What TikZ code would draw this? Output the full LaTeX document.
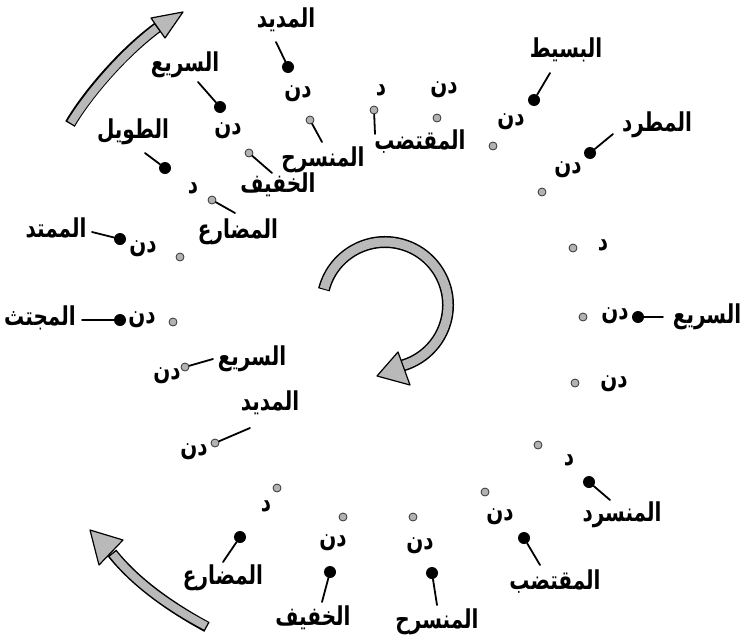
\documentclass[tikz,border=0pt]{standalone}
\usepackage{fontspec}
\newfontfamily\arabicfont[Script=Arabic]{DejaVu Sans}
\TeXXeTstate=1
\newcommand{\ar}[1]{\scalebox{1}[1.3]{\beginR#1\endR}}

\begin{document}
\begin{tikzpicture}[x=1pt, y=-1pt, line cap=round, line join=round,
  lbl/.style={font=\arabicfont\bfseries\fontsize{20}{24}\selectfont, inner sep=0pt},
  bigdot/.style={circle, fill=black, inner sep=0pt, minimum size=12pt},
  smalldot/.style={circle, fill=gray!60, draw=black!80, line width=0.8pt, inner sep=0pt, minimum size=8pt},
  leader/.style={line width=1.8pt}]

  %% ════ 外圈实心点 + 名称 ════
  \node[bigdot] (b1) at (288,67) {};   \node[lbl] (n1) at (286,20) {\ar{المديد}};
  \node[bigdot] (b2) at (220,107) {};  \node[lbl] (n2) at (185,65) {\ar{السريع}};
  \node[bigdot] (b3) at (165,168) {};  \node[lbl] (n3) at (133,132) {\ar{الطويل}};
  \node[bigdot] (b4) at (120,239) {};  \node[lbl] (n4) at (56,228) {\ar{الممتد}};
  \node[bigdot] (b5) at (120,320) {};  \node[lbl] (n5) at (40,318) {\ar{المجتث}};
  \node[bigdot] (b6) at (534,100) {};  \node[lbl] (n6) at (566,50) {\ar{البسيط}};
  \node[bigdot] (b7) at (590,153) {};  \node[lbl] (n7) at (657,125) {\ar{المطرد}};
  \node[bigdot] (b8) at (638,317) {};  \node[lbl] (n8) at (707,317) {\ar{السريع}};
  \node[bigdot] (b9) at (589,482) {};  \node[lbl] (n9) at (622,515) {\ar{المنسرد}};
  \node[bigdot] (b10) at (524,538) {}; \node[lbl] (n10) at (555,582) {\ar{المقتضب}};
  \node[bigdot] (b11) at (432,573) {}; \node[lbl] (n11) at (437,622) {\ar{المنسرح}};
  \node[bigdot] (b12) at (330,572) {}; \node[lbl] (n12) at (313,618) {\ar{الخفيف}};
  \node[bigdot] (b13) at (240,537) {}; \node[lbl] (n13) at (223,578) {\ar{المضارع}};

  %% ════ 内圈灰点 ════
  \node[smalldot] (g1) at (249,153) {};  \node[lbl] (m1) at (278,185) {\ar{الخفيف}};
  \node[smalldot] (g2) at (212,200) {};  \node[lbl] (m2) at (238,232) {\ar{المضارع}};
  \node[smalldot] (g3) at (310,120) {};  \node[lbl] (m3) at (323,160) {\ar{المنسرح}};
  \node[smalldot] (g4) at (374,110) {};  \node[lbl] (m4) at (420,142) {\ar{المقتضب}};
  \node[smalldot] (g5) at (437,118) {};
  \node[smalldot] (g6) at (493,146) {};
  \node[smalldot] (g7) at (542,192) {};
  \node[smalldot] (g8) at (573,248) {};
  \node[smalldot] (g9) at (583,317) {};
  \node[smalldot] (g10) at (575,383) {};
  \node[smalldot] (g11) at (538,445) {};
  \node[smalldot] (g12) at (485,492) {};
  \node[smalldot] (g13) at (413,517) {};
  \node[smalldot] (g14) at (343,517) {};
  \node[smalldot] (g15) at (277,488) {};
  \node[smalldot] (g16) at (215,443) {}; \node[lbl] (m16) at (270,403) {\ar{المديد}};
  \node[smalldot] (g17) at (185,367) {}; \node[lbl] (m17) at (252,359) {\ar{السريع}};
  \node[smalldot] (g18) at (173,322) {};
  \node[smalldot] (g19) at (180,257) {};

  %% ════ 引线（自由端用坐标）════
  \coordinate (t1) at (276,42);   \draw[leader] (t1) -- (b1);
  \coordinate (t2) at (198,82);   \draw[leader] (t2) -- (b2);
  \coordinate (t3) at (145,153);  \draw[leader] (t3) -- (b3);
  \coordinate (t4) at (92,232);   \draw[leader] (t4) -- (b4);
  \coordinate (t5) at (82,320);   \draw[leader] (t5) -- (b5);
  \coordinate (t6) at (550,73);   \draw[leader] (t6) -- (b6);
  \coordinate (t7) at (613,134);  \draw[leader] (t7) -- (b7);
  \coordinate (t8) at (663,317);  \draw[leader] (t8) -- (b8);
  \coordinate (t9) at (610,500);  \draw[leader] (t9) -- (b9);
  \coordinate (t10) at (540,565); \draw[leader] (t10) -- (b10);
  \coordinate (t11) at (437,605); \draw[leader] (t11) -- (b11);
  \coordinate (t12) at (322,602); \draw[leader] (t12) -- (b12);
  \coordinate (t13) at (223,562); \draw[leader] (t13) -- (b13);
  \coordinate (s1) at (272,173);  \draw[leader] (s1) -- (g1);
  \coordinate (s2) at (235,213);  \draw[leader] (s2) -- (g2);
  \coordinate (s3) at (322,142);  \draw[leader] (s3) -- (g3);
  \coordinate (s4) at (375,134);  \draw[leader] (s4) -- (g4);
  \coordinate (s16) at (250,428); \draw[leader] (s16) -- (g16);
  \coordinate (s17) at (213,359); \draw[leader] (s17) -- (g17);

  %% ════ 音节 دن / د ════
  \node[lbl] (y1) at (298,94) {\ar{دن}};
  \node[lbl] (y2) at (228,131) {\ar{دن}};
  \node[lbl] (y3) at (193,188) {\ar{د}};
  \node[lbl] (y4) at (143,249) {\ar{دن}};
  \node[lbl] (y5) at (142,320) {\ar{دن}};
  \node[lbl] (y6) at (167,376) {\ar{دن}};
  \node[lbl] (y7) at (194,452) {\ar{دن}};
  \node[lbl] (y8) at (266,506) {\ar{د}};
  \node[lbl] (y9) at (333,543) {\ar{دن}};
  \node[lbl] (y10) at (420,546) {\ar{دن}};
  \node[lbl] (y11) at (500,517) {\ar{دن}};
  \node[lbl] (y12) at (569,460) {\ar{د}};
  \node[lbl] (y13) at (614,384) {\ar{دن}};
  \node[lbl] (y14) at (615,316) {\ar{دن}};
  \node[lbl] (y15) at (603,245) {\ar{د}};
  \node[lbl] (y16) at (568,170) {\ar{دن}};
  \node[lbl] (y17) at (511,122) {\ar{دن}};
  \node[lbl] (y18) at (444,90) {\ar{دن}};
  \node[lbl] (y19) at (381,90) {\ar{د}};

  %% ════ 三个灰色箭头 ════
  % 左上
  \draw[line width=11pt, line cap=butt] (70,124) .. controls (85,98) and (120,55) .. (158,27);
  \draw[line width=8pt, gray!55, line cap=butt] (71,123) .. controls (86,98) and (120,56) .. (157,28);
  \filldraw[fill=gray!55, line width=1.2pt] (183,12) -- (151,18) -- (165,38) -- cycle;
  % 左下
  \draw[line width=11pt, line cap=butt] (207,627) .. controls (170,607) and (135,582) .. (112,553);
  \draw[line width=8pt, gray!55, line cap=butt] (206,626) .. controls (170,607) and (135,582) .. (113,554);
  \filldraw[fill=gray!55, line width=1.2pt] (90,530) -- (123,540) -- (99,565) -- cycle;
  % 中间圆弧
  \draw[line width=12pt, line cap=butt] (385,305) ++(194:63) arc[start angle=194, end angle=437, radius=63];
  \draw[line width=9pt, gray!55, line cap=butt] (385,305) ++(195:63) arc[start angle=195, end angle=437, radius=63];
  \filldraw[fill=gray!55, line width=1.2pt] (377,376) -- (398,352) -- (410,385) -- cycle;

  \pgfresetboundingbox
  \path[use as bounding box] (0,0) rectangle (749,640);
\end{tikzpicture}
\end{document}
